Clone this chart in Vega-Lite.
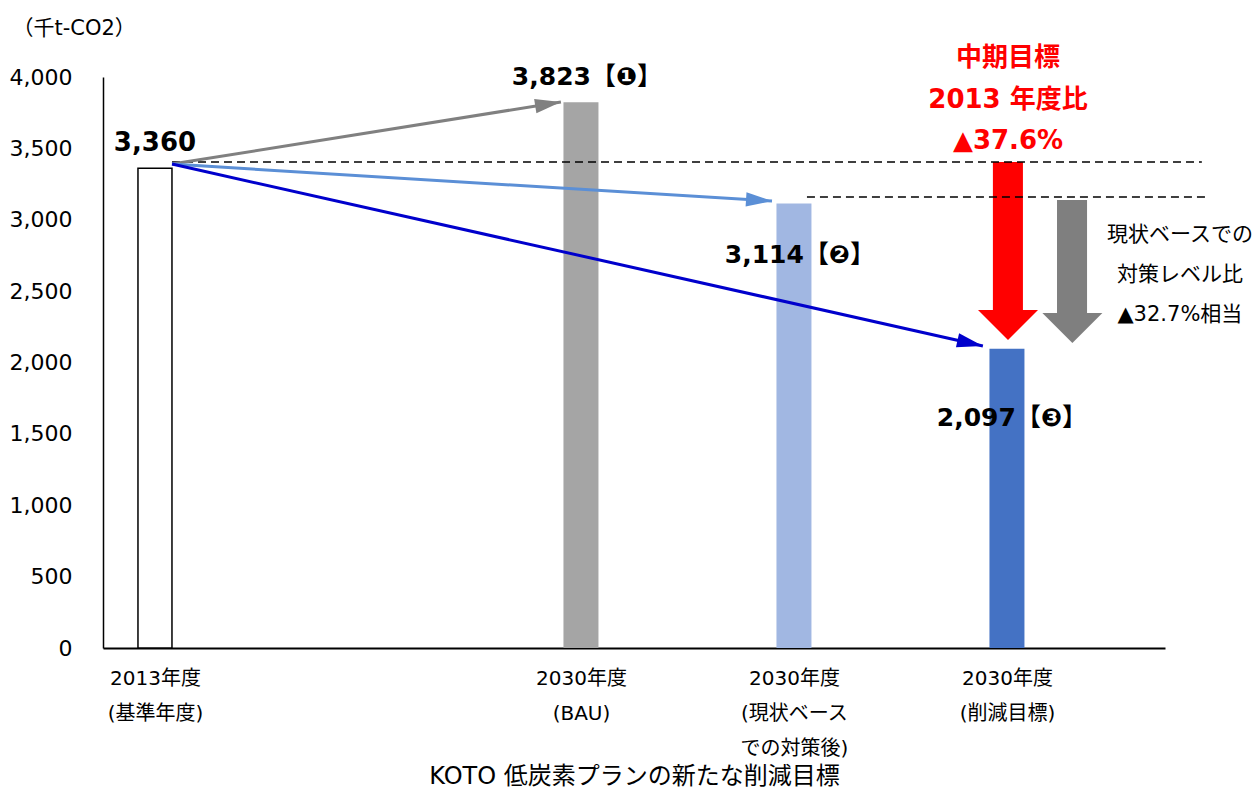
{
  "$schema": "https://vega.github.io/schema/vega-lite/v6.json",
  "width": 1062,
  "height": 571,
  "autosize": {"type": "none"},
  "padding": {"left": 103, "top": 77, "right": 90, "bottom": 141},
  "background": "white",
  "config": {"view": {"stroke": null}, "font": "DejaVu Sans, Noto Sans CJK JP"},
  "resolve": {"scale": {"color": "independent"}},
  "datasets": {
    "bars": [
      {"cat": "2013年度", "x": 0, "y": 3360, "label": "3,360"},
      {"cat": "BAU", "x": 2, "y": 3823, "label": "3,823【❶】"},
      {"cat": "現状ベース", "x": 3, "y": 3114, "label": "3,114【❷】"},
      {"cat": "削減目標", "x": 4, "y": 2097, "label": "2,097【❸】"}
    ],
    "arrows": [
      {"arrow": "bau", "x": 0.08, "y": 3390},
      {"arrow": "bau", "x": 1.906, "y": 3825},
      {"arrow": "cur", "x": 0.08, "y": 3390},
      {"arrow": "cur", "x": 2.897, "y": 3131},
      {"arrow": "tgt", "x": 0.08, "y": 3390},
      {"arrow": "tgt", "x": 3.887, "y": 2116}
    ],
    "dashes": [
      {"x": 0.08, "x2": 4.915, "y": 3405},
      {"x": 3.061, "x2": 4.939, "y": 3159}
    ],
    "blocks": [
      {"block": "red", "x": 3.934, "x2": 4.075, "y": 3405, "y2": 2368},
      {"block": "gray", "x": 4.235, "x2": 4.376, "y": 3138, "y2": 2347}
    ],
    "heads": [
      {"block": "red", "x": 4.005, "y": 2368},
      {"block": "gray", "x": 4.307, "y": 2347}
    ],
    "notes": [
      {"note": "target", "x": 4.005, "y": 4133, "text": "中期目標\n2013 年度比\n▲37.6%"},
      {"note": "side", "x": 4.812, "y": 2893, "text": "現状ベースでの\n対策レベル比\n▲32.7%相当"}
    ]
  },
  "encoding": {
    "x": {
      "field": "x", "type": "quantitative",
      "scale": {"domain": [-0.244, 4.742], "nice": false, "zero": false, "padding": 0},
      "axis": {
        "values": [0, 2, 3, 4], "ticks": false, "grid": false,
        "domainColor": "#000", "domainWidth": 2,
        "labelExpr": "datum.value == 0 ? ['2013年度', '(基準年度)'] : datum.value == 2 ? ['2030年度', '(BAU)'] : datum.value == 3 ? ['2030年度', '(現状ベース', 'での対策後)'] : ['2030年度', '(削減目標)']",
        "labelFontSize": 20, "labelColor": "#000", "labelPadding": 20, "labelLineHeight": 35,
        "labelBaseline": "top", "labelAlign": "center", "labelFlush": false, "labelOverlap": false,
        "title": "KOTO 低炭素プランの新たな削減目標", "titleFontSize": 24, "titleFontWeight": "normal",
        "titleColor": "#000", "titleX": 531, "titleY": 128, "titleBaseline": "middle", "titleAlign": "center"
      }
    },
    "y": {
      "field": "y", "type": "quantitative",
      "scale": {"domain": [0, 4000], "nice": false, "padding": 0},
      "axis": {
        "values": [0, 500, 1000, 1500, 2000, 2500, 3000, 3500, 4000],
        "labelExpr": "format(datum.value, ',')",
        "ticks": false, "grid": false, "domainColor": "#000", "domainWidth": 1.5,
        "labelFontSize": 22, "labelColor": "#000", "labelPadding": 31,
        "title": "（千t-CO2）", "titleAngle": 0, "titleAlign": "left", "titleBaseline": "middle",
        "titleX": -91, "titleY": -49, "titleFontSize": 21, "titleFontWeight": "normal", "titleColor": "#000"
      }
    }
  },
  "layer": [
    {
      "data": {"name": "bars"},
      "transform": [{"filter": "datum.x == 0"}],
      "mark": {"type": "bar", "orient": "vertical", "width": 34, "fill": "white", "stroke": "#000", "strokeWidth": 1.5}
    },
    {
      "data": {"name": "bars"},
      "transform": [{"filter": "datum.x > 0"}],
      "mark": {"type": "bar", "orient": "vertical", "width": 35},
      "encoding": {
        "color": {"field": "cat", "type": "nominal", "legend": null,
          "scale": {"domain": ["BAU", "現状ベース", "削減目標"], "range": ["#A5A5A5", "#A1B7E2", "#4472C4"]}}
      }
    },
    {
      "data": {"name": "blocks"},
      "mark": {"type": "rect"},
      "encoding": {
        "x2": {"field": "x2"},
        "y2": {"field": "y2"},
        "color": {"field": "block", "type": "nominal", "legend": null,
          "scale": {"domain": ["red", "gray"], "range": ["#FF0000", "#7F7F7F"]}}
      }
    },
    {
      "data": {"name": "heads"},
      "mark": {"type": "point", "filled": true, "opacity": 1, "shape": "M-1,0L1,0L0,1Z", "size": 3600},
      "encoding": {
        "color": {"field": "block", "type": "nominal", "legend": null,
          "scale": {"domain": ["red", "gray"], "range": ["#FF0000", "#7F7F7F"]}}
      }
    },
    {
      "data": {"name": "dashes"},
      "mark": {"type": "rule", "color": "#000", "strokeWidth": 1.6, "strokeDash": [8, 5]},
      "encoding": {"x2": {"field": "x2"}}
    },
    {
      "data": {"name": "arrows"},
      "mark": {"type": "line", "strokeWidth": 3},
      "encoding": {
        "detail": {"field": "arrow"},
        "color": {"field": "arrow", "type": "nominal", "legend": null,
          "scale": {"domain": ["bau", "cur", "tgt"], "range": ["#808080", "#5B8FD6", "#0000CC"]}}
      }
    },
    {
      "data": {"name": "arrows"},
      "transform": [{"filter": "datum.arrow == 'bau' && datum.x > 1"}],
      "mark": {"type": "point", "filled": true, "opacity": 1, "shape": "M0,0L-2,-0.55L-2,0.55Z", "size": 676, "angle": 350.93, "color": "#808080"}
    },
    {
      "data": {"name": "arrows"},
      "transform": [{"filter": "datum.arrow == 'cur' && datum.x > 1"}],
      "mark": {"type": "point", "filled": true, "opacity": 1, "shape": "M0,0L-2,-0.55L-2,0.55Z", "size": 676, "angle": 3.52, "color": "#5B8FD6"}
    },
    {
      "data": {"name": "arrows"},
      "transform": [{"filter": "datum.arrow == 'tgt' && datum.x > 1"}],
      "mark": {"type": "point", "filled": true, "opacity": 1, "shape": "M0,0L-2,-0.55L-2,0.55Z", "size": 676, "angle": 12.64, "color": "#0000CC"}
    },
    {
      "data": {"name": "bars"},
      "transform": [{"filter": "datum.x == 0"}],
      "mark": {"type": "text", "fontSize": 26, "fontWeight": "bold", "color": "#000", "baseline": "middle", "align": "center", "dy": -25},
      "encoding": {"text": {"field": "label"}}
    },
    {
      "data": {"name": "bars"},
      "transform": [{"filter": "datum.x == 2"}],
      "mark": {"type": "text", "fontSize": 25, "fontWeight": "bold", "color": "#000", "baseline": "middle", "align": "center", "dy": -25, "dx": 6},
      "encoding": {"text": {"field": "label"}}
    },
    {
      "data": {"name": "bars"},
      "transform": [{"filter": "datum.x == 3"}],
      "mark": {"type": "text", "fontSize": 25, "fontWeight": "bold", "color": "#000", "baseline": "middle", "align": "center", "dy": 52, "dx": 6},
      "encoding": {"text": {"field": "label"}}
    },
    {
      "data": {"name": "bars"},
      "transform": [{"filter": "datum.x == 4"}],
      "mark": {"type": "text", "fontSize": 25, "fontWeight": "bold", "color": "#000", "baseline": "middle", "align": "center", "dy": 69, "dx": 5},
      "encoding": {"text": {"field": "label"}}
    },
    {
      "data": {"name": "notes"},
      "transform": [{"filter": "datum.note == 'target'"}],
      "mark": {"type": "text", "fontSize": 26, "fontWeight": "bold", "color": "#FF0000", "baseline": "middle", "align": "center", "lineBreak": "\n", "lineHeight": 41.5},
      "encoding": {"text": {"field": "text"}}
    },
    {
      "data": {"name": "notes"},
      "transform": [{"filter": "datum.note == 'side'"}],
      "mark": {"type": "text", "fontSize": 21, "color": "#000", "baseline": "middle", "align": "center", "lineBreak": "\n", "lineHeight": 40},
      "encoding": {"text": {"field": "text"}}
    }
  ]
}
